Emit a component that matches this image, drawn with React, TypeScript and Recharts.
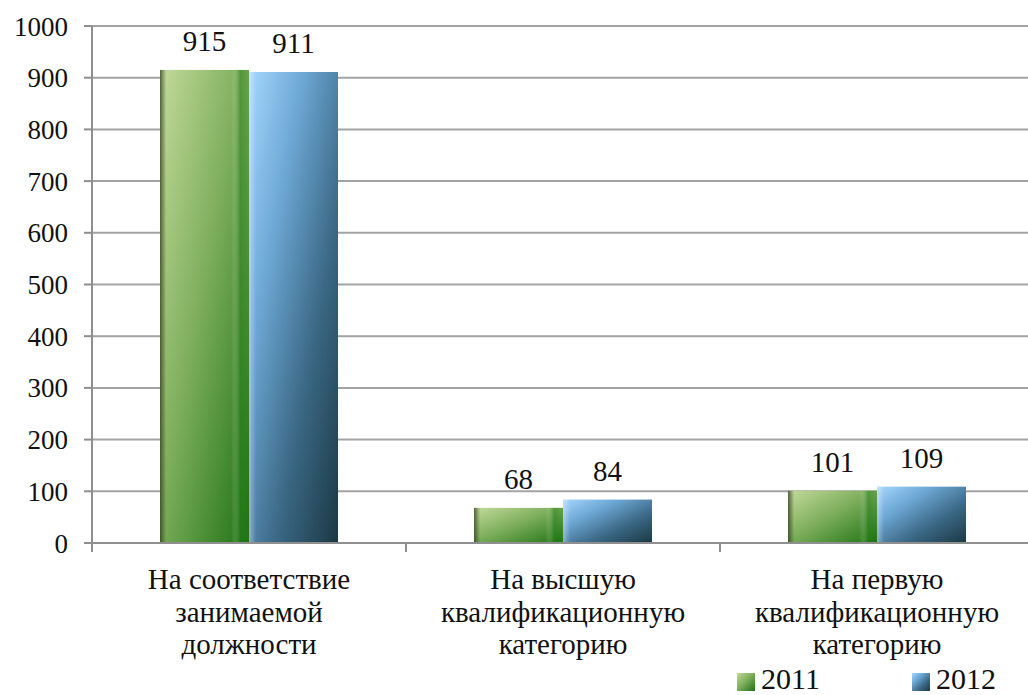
import { BarChart, Bar, XAxis, YAxis, CartesianGrid, LabelList, Legend } from "recharts";

const categories = [
	"На соответствие\nзанимаемой\nдолжности",
	"На высшую\nквалификационную\nкатегорию",
	"На первую\nквалификационную\nкатегорию",
];
const values2011 = [915, 68, 101];
const values2012 = [911, 84, 109];
const yTicks = [0, 100, 200, 300, 400, 500, 600, 700, 800, 900, 1000];
const seriesNames = ["2011", "2012"];

const data = categories.map((name, i) => ({
	name,
	y2011: values2011[i],
	y2012: values2012[i],
}));

const CHART_W = 1034;
const CHART_H = 695;
const Y_AXIS_W = 92;
const FONT = "Liberation Serif, Times New Roman, serif";
const AXIS_COLOR = "#8f8f8f";
const TEXT_COLOR = "#111";

const halfBand = (CHART_W - Y_AXIS_W) / categories.length / 2;

const CategoryTick = (props: any) => {
	const { x, y, payload } = props;
	const lines = String(payload.value).split("\n");
	const axisY = y - 10;
	return (
		<g>
			<line x1={x - halfBand} y1={axisY} x2={x - halfBand} y2={axisY + 9} stroke={AXIS_COLOR} strokeWidth={2} />
			<line x1={x + halfBand} y1={axisY} x2={x + halfBand} y2={axisY + 9} stroke={AXIS_COLOR} strokeWidth={2} />
			<text x={x} y={axisY + 46} textAnchor="middle" fill={TEXT_COLOR} fontSize={29} fontFamily={FONT}>
				{lines.map((l, i) => (
					<tspan key={i} x={x} dy={i === 0 ? 0 : 32.5}>
						{l}
					</tspan>
				))}
			</text>
		</g>
	);
};

const GreenBar = (props: any) => {
	const { x, y, width, height } = props;
	if (!height) return null;
	return (
		<g>
			<rect x={x} y={y} width={width} height={height} fill="url(#g2011)" />
			<rect x={x} y={y} width={width} height={height} fill="url(#g2011edge)" />
		</g>
	);
};

const BlueBar = (props: any) => {
	const { x, y, width, height } = props;
	if (!height) return null;
	return (
		<g>
			<rect x={x} y={y} width={width} height={height} fill="url(#g2012)" />
			<rect x={x} y={y} width={width} height={height} fill="url(#g2012edge)" />
		</g>
	);
};

const LegendContent = () => (
	<div style={{ display: "flex", fontFamily: FONT, fontSize: 30, color: TEXT_COLOR, lineHeight: "30px" }}>
		{seriesNames.map((s, i) => (
			<div key={s} style={{ display: "flex", alignItems: "flex-end", marginRight: i === 0 ? 92 : 0 }}>
				<svg width={18} height={18} style={{ marginRight: 6, marginBottom: 3 }}>
					<rect x={0} y={0} width={18} height={18} fill={i === 0 ? "url(#g2011)" : "url(#g2012)"} />
				</svg>
				<span>{s}</span>
			</div>
		))}
	</div>
);

export default function App() {
	return (
		<div
			style={{
				position: "absolute",
				left: 0,
				top: 0,
				width: 1028,
				height: 695,
				overflow: "hidden",
				background: "#fff",
			}}
		>
			<svg width={0} height={0} style={{ position: "absolute" }}>
				<defs>
					<linearGradient id="g2011" x1="0" y1="0" x2="1" y2="1">
						<stop offset="0" stopColor="#c3da9b" />
						<stop offset="0.45" stopColor="#80b05e" />
						<stop offset="1" stopColor="#1f7214" />
					</linearGradient>
					<linearGradient id="g2011edge" x1="0" y1="0" x2="1" y2="0">
						<stop offset="0" stopColor="#2e3a18" stopOpacity={0.75} />
						<stop offset="0.07" stopColor="#2e3a18" stopOpacity={0} />
						<stop offset="0.8" stopColor="#ffffff" stopOpacity={0} />
						<stop offset="0.9" stopColor="#1a7a10" stopOpacity={0.45} />
						<stop offset="1" stopColor="#1a7a10" stopOpacity={0.15} />
					</linearGradient>
					<linearGradient id="g2012" x1="0" y1="0" x2="1" y2="1">
						<stop offset="0" stopColor="#a6d7fd" />
						<stop offset="0.3" stopColor="#6ea9d6" />
						<stop offset="0.65" stopColor="#3b6885" />
						<stop offset="1" stopColor="#1b3843" />
					</linearGradient>
					<linearGradient id="g2012edge" x1="0" y1="0" x2="1" y2="0">
						<stop offset="0" stopColor="#ffffff" stopOpacity={0.35} />
						<stop offset="0.08" stopColor="#ffffff" stopOpacity={0} />
						<stop offset="1" stopColor="#ffffff" stopOpacity={0} />
					</linearGradient>
				</defs>
			</svg>
			<BarChart
				width={CHART_W}
				height={CHART_H}
				data={data}
				margin={{ top: 26, right: 0, left: 0, bottom: 0 }}
				barGap={0}
				barSize={89}
			>
				<CartesianGrid vertical={false} stroke="#a3a3a3" strokeWidth={2} />
				<XAxis
					dataKey="name"
					height={152}
					interval={0}
					tickLine={false}
					tickSize={0}
					tickMargin={10}
					axisLine={{ stroke: AXIS_COLOR, strokeWidth: 2 }}
					tick={<CategoryTick />}
				/>
				<YAxis
					width={Y_AXIS_W}
					domain={[0, 1000]}
					ticks={yTicks}
					interval={0}
					tickSize={8}
					tickMargin={16}
					tickLine={{ stroke: AXIS_COLOR, strokeWidth: 2 }}
					axisLine={{ stroke: AXIS_COLOR, strokeWidth: 2 }}
					tick={{ fill: TEXT_COLOR, fontSize: 27, fontFamily: FONT }}
				/>
				<Legend
					layout="horizontal"
					verticalAlign="middle"
					align="center"
					wrapperStyle={{ left: 737, top: 664, width: 300 }}
					content={<LegendContent />}
				/>
				<Bar dataKey="y2011" name={seriesNames[0]} shape={<GreenBar />} isAnimationActive={false}>
					<LabelList dataKey="y2011" position="top" offset={19} fill={TEXT_COLOR} fontSize={29} fontFamily={FONT} />
				</Bar>
				<Bar dataKey="y2012" name={seriesNames[1]} shape={<BlueBar />} isAnimationActive={false}>
					<LabelList dataKey="y2012" position="top" offset={19} fill={TEXT_COLOR} fontSize={29} fontFamily={FONT} />
				</Bar>
			</BarChart>
		</div>
	);
}
